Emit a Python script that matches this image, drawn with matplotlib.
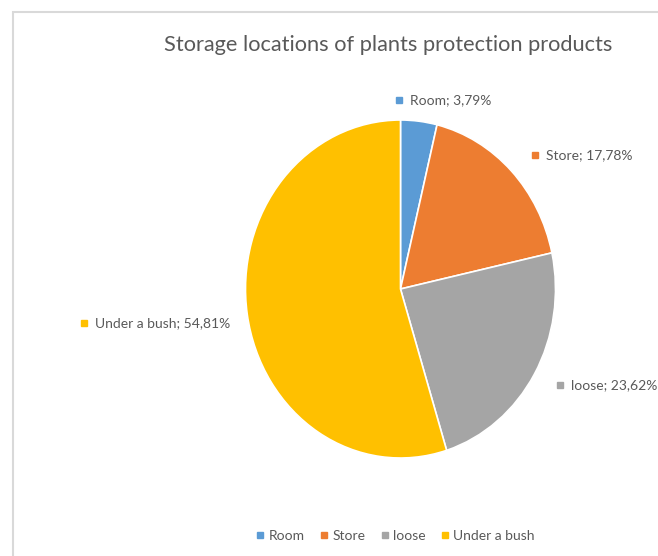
import matplotlib.pyplot as plt
from matplotlib.lines import Line2D
from matplotlib.patches import Rectangle

plt.rcParams['font.family'] = ['Lato', 'DejaVu Sans']

categories = ["Room", "Store", "loose", "Under a bush"]
shares = [3.79, 17.78, 23.62, 54.81]
value_labels = ["3,79%", "17,78%", "23,62%", "54,81%"]
colors = ["#5B9BD5", "#ED7D31", "#A5A5A5", "#FFC000"]

# label anchor positions (data units, pie radius = 1)
label_pos = [(-0.01, 1.12), (0.87, 0.79), (1.03, -0.57), (-2.04, -0.2)]

W, H = 658, 556
fig = plt.figure(figsize=(W / 100, H / 100), dpi=100)

# chart area border
fig.add_artist(Rectangle((13 / W, -0.01), 1.0, 1 - 12 / H + 0.01,
                         transform=fig.transFigure, fill=False,
                         edgecolor="#d9d9d9", linewidth=1.5))

# the original picture is slightly stretched vertically
cx, cy, rx, ry = 400.5, 289, 155, 169
ax = fig.add_axes([(cx - rx) / W, (H - cy - ry) / H, 2 * rx / W, 2 * ry / H])
ax.pie(shares, colors=colors, startangle=90, counterclock=False,
       wedgeprops=dict(edgecolor="white", linewidth=1.2))
ax.set_xlim(-1, 1)
ax.set_ylim(-1, 1)
ax.set_aspect("auto")
ax.axis("off")

text_color = "#595959"
for (x, y), cat, val, c in zip(label_pos, categories, value_labels, colors):
    ax.plot([x], [y], marker="s", markersize=4, color=c, clip_on=False)
    ax.text(x + 0.07, y, f"{cat}; {val}", fontsize=10, color=text_color,
            ha="left", va="center", clip_on=False)

fig.text(388 / W, 1 - 45 / H, "Storage locations of plants protection products",
         fontsize=15.7, color=text_color, ha="center", va="center")

handles = [Line2D([], [], marker="s", linestyle="none", markersize=4, color=c)
           for c in colors]
fig.legend(handles, categories, loc="center", bbox_to_anchor=(394 / W, 1 - 536 / H),
           ncol=4, frameon=False, fontsize=10, labelcolor=text_color,
           handletextpad=0.1, columnspacing=0.9, handlelength=1.0)

fig.savefig("out.png", dpi=100)
